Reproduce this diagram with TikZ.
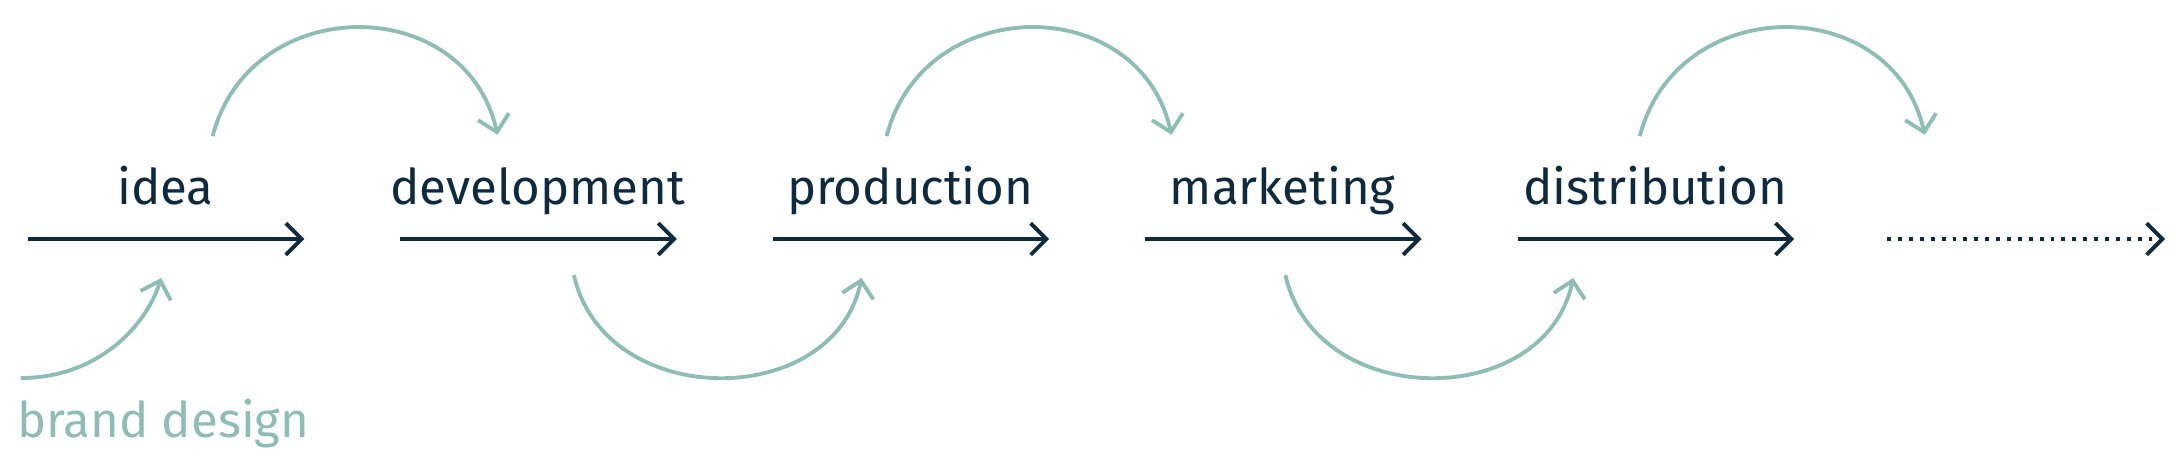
\documentclass[tikz,border=0pt]{standalone}
\usepackage{fontspec}
\setmainfont{Fira Sans}
\usetikzlibrary{arrows.meta}
\definecolor{navy}{HTML}{0F2A3D}
\definecolor{teal}{HTML}{8FBCB5}
\tikzset{
  flow/.style={draw=navy,line width=1.1pt,-{Straight Barb[length=4.5pt,width=9pt,line width=1.1pt]}},
  hop/.style={draw=teal,line width=1.1pt,-{Straight Barb[length=4.5pt,width=9pt,line width=1.1pt]}},
  stage/.style={text=navy,font=\fontsize{14}{16}\selectfont,inner sep=0pt}
}
\begin{document}
\begin{tikzpicture}[x=0.013897cm,y=-0.013897cm]
\useasboundingbox (0,0) rectangle (1568,328);
% stages
\foreach \n/\x/\t in {a/20/idea,b/288/development,c/556/production,d/824/marketing,e/1092/distribution}{
  \coordinate (\n0) at (\x,172);
  \coordinate (\n1) at (\x+199,172);
  \node[stage,anchor=base] (\n) at (\x+99,147) {\t};
  \draw[flow] (\n0) -- (\n1);
}
\coordinate (f0) at (1358,172);
\coordinate (f1) at (1558,172);
\draw[flow,dotted] (f0) -- (f1);
% hops over
\foreach \x in {153,638,1180}{
  \coordinate (u0) at (\x,98);
  \coordinate (u1) at (\x+205,97);
  \draw[hop] (u0) .. controls (\x+27,-6) and (\x+182,-6) .. (u1);
}
% hops under
\foreach \x in {413,925}{
  \coordinate (l0) at (\x,198);
  \coordinate (l1) at (\x+207,200);
  \draw[hop] (l0) .. controls (\x+22,296) and (\x+187,296) .. (l1);
}
% brand design
\coordinate (g0) at (15,272);
\coordinate (g1) at (116,200);
\draw[hop] (g0) .. controls (70,272) and (105,235) .. (g1);
\node[text=teal,font=\fontsize{14}{16}\selectfont,inner sep=0pt,anchor=base west] (brand) at (12,315) {brand design};
\end{tikzpicture}
\end{document}
